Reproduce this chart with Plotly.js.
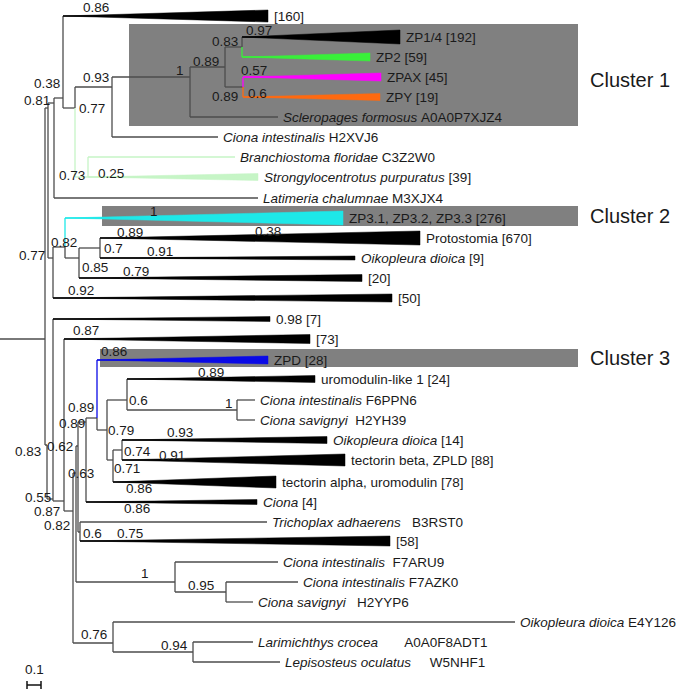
<!DOCTYPE html>
<html><head><meta charset="utf-8">
<script src="https://cdn.plot.ly/plotly-3.0.1.min.js"></script>
<style>html,body{margin:0;padding:0;background:#fff}#chart{width:680px;height:690px}</style>
</head><body><div id="chart"></div>
<script>
// ---------------- DATA ----------------
// Internal nodes: depth (branch-length units, 14 units = 0.1 subst./site) and row position
const nodeIds     = ['R0','N48','C47','P1','Q','R','S','U','V','W','X','T','Y','Z','AA','AB','E1','E2','E3','E4','E5','N089L','N089U','N079','N06b','N1b','N071','N074','N06','N1','N095','N076','N094'];
const nodeParents = [null,'R0','R0','N48','P1','Q','R','S','U','V','V','R','N48','Y','Z','AA','C47','E1','E2','E3','E4','E5','N089L','N089U','N079','N06b','N079','N071','E5','E4','N1','E3','N076'];
const nodeDepth   = [45,48,47,54,63,75,112,190,225,242,243,88,53,65,79,100,53,64,73,76,78,86,97,107,127,237,113,122,80,175,226,113,193];
const nodeRow     = [339,108,445,103,98,108,87,77,67,47,87,177,258,247,258,248,499,501,511,473,446,422,418,430,400,410,460,450,532,582,592,643,652];
const nodeSupport = ['','','0.83','0.81','0.38','0.77','0.93','1','0.89','0.83','0.89','0.73','0.77','0.82','0.85','0.7','0.55','0.87','0.82','0.63','0.62','0.89','0.89','0.79','0.6','1','0.71','0.74','0.6','1','0.95','0.76','0.94'];

// Leaves / collapsed clades
const leafIds     = ['L160','ZP14','ZP2','ZPAX','ZPY','Sclero','CionaH2X','Branchio','Strongy','Latim','ZP3','Proto','Oik9','L20','L50','L7','L73','ZPD','Uromod','CionaF6','CionaH2Y','Oik14','TectB','TectA','Ciona4','Trich','L58','F7ARU9','F7AZK0','H2YYP6','E4Y126','Larim','Lepis'];
const leafParents = ['Q','W','W','X','X','U','S','T','T','P1','Z','AB','AB','AA','Y','E1','E2','N089U','N06b','N1b','N1b','N074','N074','N071','N089L','N06','N06','N1','N095','N095','N076','N094','N094'];
const leafDepth   = [268,400,370,381,380,278,218,235,258,258,343,420,355,362,392,270,310,268,315,255,255,327,345,276,257,267,390,278,298,253,515,253,280];
const leafRow     = [16,37,57,77,97,117,137,157,177,198,218,238,258,278,298,319,339,360,379,400,420,440,460,482,502,522,541,562,582,602,622,642,662];
const leafSpecies = ['','','','','','Scleropages formosus','Ciona intestinalis','Branchiostoma floridae','Strongylocentrotus purpuratus','Latimeria chalumnae','','','Oikopleura dioica','','','','','','','Ciona intestinalis','Ciona savignyi','Oikopleura dioica','','','Ciona','Trichoplax adhaerens','','Ciona intestinalis','Ciona intestinalis','Ciona savignyi','Oikopleura dioica','Larimichthys crocea','Lepisosteus oculatus'];
const leafTag     = ['[160]','ZP1/4 [192]','ZP2 [59]','ZPAX [45]','ZPY [19]','A0A0P7XJZ4','H2XVJ6','C3Z2W0','[39]','M3XJX4','ZP3.1, ZP3.2, ZP3.3 [276]','Protostomia [670]','[9]','[20]','[50]','0.98 [7]','[73]','ZPD [28]','uromodulin-like 1 [24]','F6PPN6','H2YH39','[14]','tectorin beta, ZPLD [88]','tectorin alpha, uromodulin [78]','[4]','B3RST0','[58]','F7ARU9','F7AZK0','H2YYP6','E4Y126','A0A0F8ADT1','W5NHF1'];
const leafSupport = ['0.86','0.97','','0.57','0.6','','','','0.25','','1','0.89','0.91','0.79','0.92','','0.87','0.86','0.89','','','0.93','0.91','0.86','0.86','','0.75','','','','','',''];
const leafSupportExtra = ['','','','','','','','','','','','0.38','','','','','','','','','','','','','','','','','','','','',''];

const clusterNames  = ['Cluster 1','Cluster 2','Cluster 3'];
const clusterFirst  = ['ZP14','ZP3','ZPD'];
const clusterLast   = ['Sclero','ZP3','ZPD'];
const scaleBarValue = '0.1';
const scaleBarLength = 14;

// ---------------- STYLE ----------------
const BR = '#4d4d4d';
const LG = '#c6f5c6';
const nodeColor = {T: LG};
const leafColor = {ZP2:'#39f03a', ZPAX:'#ff00ff', ZPY:'#ff6a10', Branchio:LG, Strongy:LG, ZP3:'#1ee8e8', ZPD:'#0a0ae6'};
const triHeight = {L160:12, ZP14:14, ZP2:8, ZPAX:8, ZPY:7, Strongy:7, ZP3:14, Proto:14, Oik9:4, L20:7, L50:8, L7:5, L73:9, ZPD:8, Uromod:7, Oik14:7, TectB:12, TectA:12, Ciona4:5, L58:10};
const labelGap = {CionaH2Y:2, Trich:3, F7ARU9:2, H2YYP6:3, Larim:7, Lepis:5};
const nodeSupOff = {C47:[-19,6],P1:[-17,-3],Q:[-16,-15],R:[17,0],S:[-16,-10],U:[-10,-7],V:[-19,-6],W:[-17,-6],X:[-18,9],T:[-16,-2],Y:[-21,-3],Z:[-1,-5],AA:[16,9],AB:[13,0],E1:[-15,-2],E2:[-17,10],E3:[-16,14],E4:[5,0],E5:[-18,0],N089L:[-14,1],N089U:[-16,-11],N079:[14,0],N06b:[11,0],N1b:[-8,-7],N071:[14,8],N074:[15,1],N06:[12,1],N1:[-30,-9],N095:[-25,-7],N076:[-19,-9],N094:[-19,-7]};
const leafSupOff = {L160:[33,-9],ZP14:[17,-7],ZPAX:[11,-7],ZPY:[14,-4],Strongy:[23,-4],ZP3:[89,-7],Proto:[30,-6],Oik9:[60,-7],L20:[57,-7],L50:[28,-8],L73:[22,-9],ZPD:[17,-9],Uromod:[84,-7],Oik14:[58,-8],TectB:[50,-5],TectA:[26,6],Ciona4:[51,6],L58:[50,-8]};
const leafSupExtraOff = {Proto:[168,-7]};
const clusterBoxLeft = [129,102,100], clusterBoxRight = 578;
const clusterPadTop = [13,12,11], clusterPadBot = [9,8,7];
const clusterLabelDy = [5,0,0];
const FONT = 'Liberation Sans, Arial, sans-serif';
const TXT = '#1a1a1a';

// ---------------- BUILD ----------------
const node = {};
nodeIds.forEach((id,i)=> node[id] = {x:nodeDepth[i], y:nodeRow[i], p:nodeParents[i]});
const segs = {};
function seg(c,x0,y0,x1,y1){ if(!segs[c]) segs[c]={x:[],y:[]}; segs[c].x.push(x0,x1,null); segs[c].y.push(y0,y1,null); }
const traces = [];
const annotations = [];
const shapes = [];

// root stem
const root = node[nodeIds[nodeParents.indexOf(null)]];
seg(BR, 0, root.y, root.x, root.y);

nodeIds.forEach((id,i)=>{
  const pid = nodeParents[i]; if(!pid) return;
  const P = node[pid]; const c = nodeColor[id] || BR;
  seg(c, P.x, P.y, P.x, nodeRow[i]);
  seg(c, P.x, nodeRow[i], nodeDepth[i], nodeRow[i]);
  if (nodeSupport[i]) {
    const o = nodeSupOff[id] || [0,-8];
    annotations.push({x:nodeDepth[i]+o[0], y:nodeRow[i]+o[1], text:nodeSupport[i], showarrow:false, xanchor:'center', yanchor:'middle', font:{family:FONT,size:13.5,color:TXT}});
  }
});

leafIds.forEach((id,i)=>{
  const P = node[leafParents[i]]; const c = leafColor[id] || BR; const y = leafRow[i]; const xe = leafDepth[i];
  seg(c, P.x, P.y, P.x, y);
  const h = triHeight[id];
  if (h) {
    const fc = leafColor[id] || '#000';
    seg(fc, P.x, y, xe, y);
    traces.push({type:'scatter', mode:'lines', x:[P.x, xe, xe, P.x], y:[y, y-h/2, y+h/2, y], fill:'toself', fillcolor:fc, line:{color:fc, width:0.5}, hoverinfo:'skip', showlegend:false});
  } else {
    seg(c, P.x, y, xe, y);
  }
  let label = '';
  if (leafSpecies[i]) label += '<i>' + leafSpecies[i] + '</i>' + '\u00A0'.repeat(labelGap[id] || 1);
  label += leafTag[i];
  annotations.push({x:xe + (h?4:3), y:y, text:label, showarrow:false, xanchor:'left', yanchor:'middle', font:{family:FONT,size:13.5,color:TXT}});
  if (leafSupport[i]) {
    const o = leafSupOff[id] || [20,-8];
    annotations.push({x:P.x+o[0], y:y+o[1], text:leafSupport[i], showarrow:false, xanchor:'center', yanchor:'middle', font:{family:FONT,size:13.5,color:TXT}});
  }
  if (leafSupportExtra[i]) {
    const o = leafSupExtraOff[id] || [60,-8];
    annotations.push({x:P.x+o[0], y:y+o[1], text:leafSupportExtra[i], showarrow:false, xanchor:'center', yanchor:'middle', font:{family:FONT,size:13.5,color:TXT}});
  }
});

Object.keys(segs).forEach(c=>{
  traces.push({type:'scatter', mode:'lines', x:segs[c].x, y:segs[c].y, line:{color:c, width:1.3}, hoverinfo:'skip', showlegend:false});
});

// cluster boxes
clusterNames.forEach((name,k)=>{
  const y0 = leafRow[leafIds.indexOf(clusterFirst[k])] - clusterPadTop[k];
  const y1 = leafRow[leafIds.indexOf(clusterLast[k])] + clusterPadBot[k];
  shapes.push({type:'rect', xref:'x', yref:'y', x0:clusterBoxLeft[k], x1:clusterBoxRight, y0:y0, y1:y1, fillcolor:'#808080', line:{width:0}, layer:'below'});
  annotations.push({x:clusterBoxRight+10, y:(y0+y1)/2 + clusterLabelDy[k], text:name, showarrow:false, xanchor:'left', yanchor:'middle', font:{family:FONT,size:20,color:TXT}});
});

// scale bar
const sbX0 = 27, sbY = 685;
traces.push({type:'scatter', mode:'lines', x:[sbX0, sbX0+scaleBarLength, null, sbX0, sbX0, null, sbX0+scaleBarLength, sbX0+scaleBarLength], y:[sbY, sbY, null, sbY-4, sbY+4, null, sbY-4, sbY+4], line:{color:'#111', width:1.5}, hoverinfo:'skip', showlegend:false});
annotations.push({x:sbX0+scaleBarLength/2, y:sbY-16, text:scaleBarValue, showarrow:false, xanchor:'center', yanchor:'middle', font:{family:FONT,size:13.5,color:TXT}});

const layout = {
  width:680, height:690, margin:{l:0,r:0,t:0,b:0},
  paper_bgcolor:'#fff', plot_bgcolor:'#fff', showlegend:false,
  xaxis:{range:[0,680], visible:false, fixedrange:true},
  yaxis:{range:[690,0], visible:false, fixedrange:true},
  shapes:shapes, annotations:annotations, hovermode:false
};
Plotly.newPlot('chart', traces, layout, {displayModeBar:false, staticPlot:true});
</script></body></html>
